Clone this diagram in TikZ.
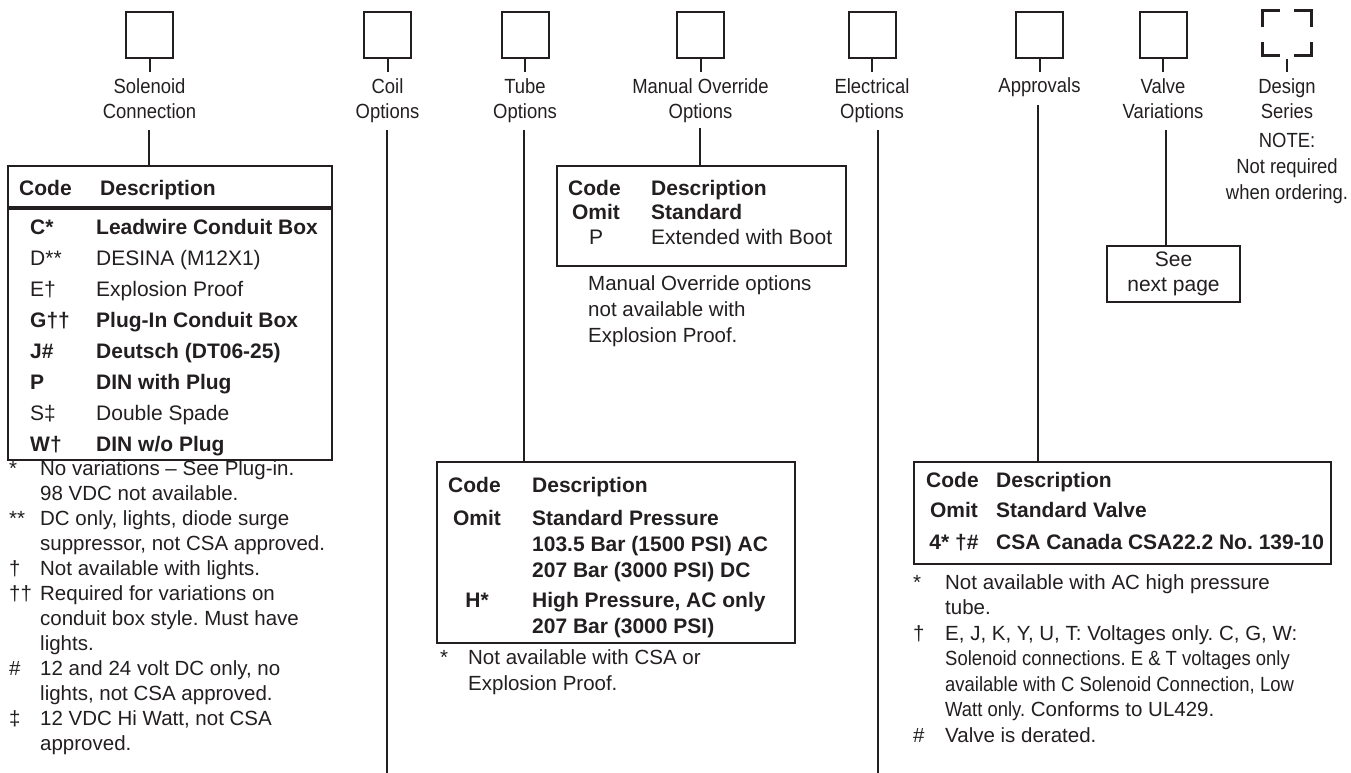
\documentclass[tikz,border=0pt]{standalone}
\usepackage{fontspec}
\setmainfont{Liberation Sans}
\newfontfamily\condfont{Liberation Sans}[FakeStretch=0.9]
\newfontfamily\tightfont{Liberation Sans}[FakeStretch=0.9]
\usetikzlibrary{calc}
\definecolor{ink}{HTML}{231F20}
\frenchspacing
\tikzset{
  digit/.style={draw=ink, line width=2pt, minimum width=47pt, minimum height=46pt, inner sep=0pt},
  optbox/.style={draw=ink, line width=2pt, anchor=north west, inner sep=0pt},
  wire/.style={draw=ink, line width=2pt},
  corner/.style={draw=ink, line width=3pt},
  lbl/.style={anchor=north, align=center, inner sep=0pt, text=ink, font=\condfont\fontsize{20.5}{25}\selectfont},
  hdr/.style={anchor=base west, inner sep=0pt, text=ink, font=\bfseries\fontsize{21}{25}\selectfont},
  col/.style={anchor=north west, align=left, inner sep=0pt, text=ink},
  ccol/.style={anchor=north, align=center, inner sep=0pt, text=ink}
}
\begin{document}
\begin{tikzpicture}[x=1pt, y=-1pt]
  \useasboundingbox (0,0) rectangle (1351,773);

  % code boxes along the top
  \node[digit] (solbox) at (149.5,35) {};
  \node[digit] (coilbox) at (387.5,35) {};
  \node[digit] (tubebox) at (525,35) {};
  \node[digit] (mobox) at (700.5,35) {};
  \node[digit] (elecbox) at (872,35) {};
  \node[digit] (apprbox) at (1039.5,35) {};
  \node[digit] (valvebox) at (1163,35) {};
  \node[minimum width=48pt, minimum height=44pt, inner sep=0pt] (designbox) at (1287,33) {};
  \draw[corner] ($(designbox.north west)+(0,16)$) -- (designbox.north west) -- ++(17,0);
  \draw[corner] ($(designbox.north east)+(-17,0)$) -- (designbox.north east) -- ++(0,16);
  \draw[corner] ($(designbox.south west)+(0,-13)$) -- (designbox.south west) -- ++(17,0);
  \draw[corner] ($(designbox.south east)+(-17,0)$) -- (designbox.south east) -- ++(0,-13);

  % ticks
  \coordinate (soltick) at (149.5,72);
  \coordinate (coiltick) at (387.5,72);
  \coordinate (tubetick) at (525,72);
  \coordinate (motick) at (700.5,72);
  \coordinate (electick) at (872,72);
  \coordinate (apprtick) at (1039.5,72);
  \coordinate (valvetick) at (1163,72);
  \coordinate (designtick) at (1287,72);
  \foreach \n in {sol,coil,tube,mo,elec,appr,valve}
    \draw[wire] (\n box.south) -- (\n tick);
  \draw[draw=ink, line width=1.5pt] ([yshift=-4pt]designbox.south) -- (designtick);

  % labels
  \node[lbl] (sollbl) at (149.5,75.5) {\strut Solenoid\\Connection};
  \node[lbl] (coillbl) at (387.5,75.5) {\strut Coil\\Options};
  \node[lbl] (tubelbl) at (525,75.5) {\strut Tube\\Options};
  \node[lbl] (molbl) at (700.5,75.5) {\strut Manual Override\\Options};
  \node[lbl] (eleclbl) at (872,75.5) {\strut Electrical\\Options};
  \node[lbl] (apprlbl) at (1039.5,74.5) {\strut Approvals};
  \node[lbl] (valvelbl) at (1163,75.5) {\strut Valve\\Variations};
  \node[lbl] (designlbl) at (1287,75.5) {\strut Design\\Series};
  \node[lbl, font=\condfont\fontsize{20.5}{26}\selectfont] (designnote) at (1287,128.8)
    {\strut NOTE:\\Not required\\when ordering.};

  % solenoid connection table
  \node[optbox, minimum width=324pt, minimum height=294pt] (soltab) at (7,165) {};
  \node[hdr] (solcode) at (19,195) {Code};
  \node[hdr] (soldesc) at (100,195) {Description};
  \coordinate (solsep) at (0,208);
  \draw[draw=ink, line width=3.5pt] (soltab.west |- solsep) -- (soltab.east |- solsep);
  \node[col, font=\fontsize{21}{31}\selectfont] (solcodes) at (30,212.3)
    {\strut\textbf{C*}\\D**\\E†\\\textbf{G††}\\\textbf{J\#}\\\textbf{P}\\S‡\\\textbf{W†}};
  \node[col, font=\fontsize{21}{31}\selectfont] (soldescs) at (96,212.3)
    {\strut\textbf{Leadwire Conduit Box}\\DESINA (M12X1)\\Explosion Proof\\\textbf{Plug-In Conduit Box}\\
     \textbf{Deutsch (DT06-25)}\\\textbf{DIN with Plug}\\Double Spade\\\textbf{DIN w/o Plug}};
  \node[col, font=\fontsize{20.5}{25}\selectfont] (solnotes) at (9,457.5) {%
    \begin{tabular}{@{}p{31pt}@{}l@{}}
      {*} & No variations – See Plug-in.\\
          & 98 VDC not available.\\
      {**} & DC only, lights, diode surge\\
           & suppressor, not CSA approved.\\
      † & Not available with lights.\\
      †† & Required for variations on\\
         & conduit box style. Must have\\
         & lights.\\
      \# & 12 and 24 volt DC only, no\\
         & lights, not CSA approved.\\
      ‡ & 12 VDC Hi Watt, not CSA\\
        & approved.
    \end{tabular}};

  % manual override table
  \node[optbox, minimum width=289pt, minimum height=100pt] (motab) at (556,165) {};
  \node[hdr] (mocode) at (568,195) {Code};
  \node[hdr] (modesc) at (651,195) {Description};
  \node[ccol, font=\fontsize{21}{25}\selectfont] (mocodes) at (596,201.5) {\strut\textbf{Omit}\\P};
  \node[col, font=\fontsize{21}{25}\selectfont] (modescs) at (651,201.5) {\strut\textbf{Standard}\\Extended with Boot};
  \node[col, font=\fontsize{20.5}{26}\selectfont] (monote) at (588,271.8)
    {\strut Manual Override options\\not available with\\Explosion Proof.};

  % tube options table
  \node[optbox, minimum width=358pt, minimum height=181pt] (tubetab) at (436,461) {};
  \node[hdr] (tubecode) at (448,492) {Code};
  \node[hdr] (tubedesc) at (532,492) {Description};
  \node[ccol, font=\bfseries\fontsize{21}{26}\selectfont] (tubecodes) at (477,506.8) {\strut Omit\\[56pt]H*};
  \node[col, font=\bfseries\fontsize{21}{26}\selectfont] (tubedescs) at (532,506.8)
    {\strut Standard Pressure\\103.5 Bar (1500 PSI) AC\\207 Bar (3000 PSI) DC\\[4pt]High Pressure, AC only\\207 Bar (3000 PSI)};
  \node[col, font=\fontsize{20.5}{26}\selectfont] (tubenotes) at (440,645.8) {%
    \begin{tabular}{@{}p{28pt}@{}l@{}}
      {*} & Not available with CSA or\\
          & Explosion Proof.
    \end{tabular}};

  % see next page
  \node[optbox, align=center, text=ink, minimum width=133pt, minimum height=56pt,
    font=\fontsize{21}{25}\selectfont] (seebox) at (1106,245) {\strut See\\next page\strut};

  % approvals table
  \node[optbox, minimum width=417pt, minimum height=102pt] (apprtab) at (913,461) {};
  \node[hdr] (apprcode) at (926,487) {Code};
  \node[hdr] (apprdesc) at (996,487) {Description};
  \node[ccol, font=\bfseries\fontsize{21}{25}\selectfont] (apprcodes) at (954,499.5) {\strut Omit\\[7pt]4* †\#};
  \node[col, font=\bfseries\fontsize{21}{25}\selectfont] (apprdescs) at (996,499.5)
    {\strut Standard Valve\\[7pt]CSA Canada CSA22.2 No. 139-10};
  \node[col, font=\fontsize{20.5}{25.5}\selectfont] (apprnotes) at (913,571.2) {%
    \begin{tabular}{@{}p{32pt}@{}l@{}}
      {*} & Not available with AC high pressure\\
          & tube.\\
      † & E, J, K, Y, U, T: Voltages only. C, G, W:\\
        & {\tightfont Solenoid connections. E \& T voltages only}\\
        & {\tightfont available with C Solenoid Connection, Low}\\
        & {\tightfont Watt only.} Conforms to UL429.\\
      \# & Valve is derated.
    \end{tabular}};

  % leader lines
  \coordinate (soltop) at (149,130);
  \coordinate (coiltop) at (387,130);
  \coordinate (coilend) at (387,773);
  \coordinate (tubetop) at (524,130);
  \coordinate (motop) at (700,128);
  \coordinate (electop) at (878,130);
  \coordinate (elecend) at (878,773);
  \coordinate (apprtop) at (1038,105);
  \coordinate (valvetop) at (1166,130);
  \draw[wire] (soltop) -- (soltop |- soltab.north);
  \draw[wire] (coiltop) -- (coilend);
  \draw[wire] (tubetop) -- (tubetop |- tubetab.north);
  \draw[wire] (motop) -- (motop |- motab.north);
  \draw[wire] (electop) -- (elecend);
  \draw[wire] (apprtop) -- (apprtop |- apprtab.north);
  \draw[wire] (valvetop) -- (valvetop |- seebox.north);
\end{tikzpicture}
\end{document}
